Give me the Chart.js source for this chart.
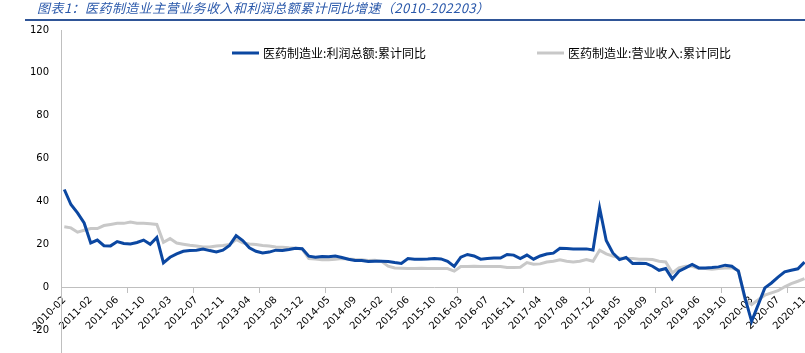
<!DOCTYPE html>
<html>
<head>
<meta charset="utf-8">
<script src="https://cdn.jsdelivr.net/npm/chart.js@4.4.0/dist/chart.umd.min.js"></script>
<style>
  html, body { margin: 0; padding: 0; background: #fff; }
  #wrap { position: relative; width: 805px; height: 353px; overflow: hidden; }
  #chart { position: absolute; left: 0; top: 0; }
  #title { position: absolute; left: 37px; top: -1px; font: italic 13px 'Noto Sans CJK SC', sans-serif; letter-spacing: 0.45px; color: #2A58AA; line-height: 18px; white-space: nowrap; }
  #rule { position: absolute; left: 25px; right: 0; top: 19px; height: 2px; background: #2F5597; }
</style>
</head>
<body>
<div id="wrap">
  <canvas id="chart" width="815" height="391"></canvas>
  <div id="title">图表1：医药制造业主营业务收入和利润总额累计同比增速（2010-202203）</div>
  <div id="rule"></div>
</div>
<script>
// categories: 2010 only has four readings, then Feb..Dec each year (Jan+Feb merged)
const categories = ['2010-02', '2010-05', '2010-08', '2010-11'];
for (let y = 2011; y <= 2020; y++) {
    for (let m = 2; m <= 12; m++) {
        if (y === 2020 && m > 11) break;
        categories.push(y + '-' + String(m).padStart(2, '0'));
    }
}

const profitLabel = '医药制造业:利润总额:累计同比';
const revenueLabel = '医药制造业:营业收入:累计同比';

// 利润总额累计同比 (%)
const profitGrowth = [
    45.6, 38.6, 34.7, 30.0, 20.7, 22.0, 19.4, 19.3, 21.3, 20.4,
    20.2, 20.9, 22.0, 20.0, 23.2, 11.4, 14.0, 15.6, 16.8, 17.1,
    17.3, 17.8, 17.1, 16.5, 17.3, 19.5, 24.1, 21.8, 18.4, 16.8,
    16.0, 16.4, 17.3, 17.1, 17.6, 18.2, 18.0, 14.5, 14.0, 14.3,
    14.2, 14.6, 13.9, 13.1, 12.5, 12.5, 12.0, 12.1, 12.1, 12.0,
    11.5, 11.1, 13.4, 13.1, 13.1, 13.2, 13.4, 13.2, 12.1, 9.7,
    14.0, 15.3, 14.6, 13.1, 13.4, 13.6, 13.6, 15.3, 15.0, 13.4,
    15.0, 13.1, 14.6, 15.5, 15.9, 18.2, 18.1, 17.9, 17.9, 17.9,
    17.4, 37.0, 21.8, 16.0, 12.9, 13.9, 11.1, 11.2, 11.1, 9.8,
    7.9, 8.7, 3.9, 7.5, 9.0, 10.6, 9.0, 9.0, 9.2, 9.5,
    10.3, 9.8, 7.5, -5.0, -15.9, -8.1, -0.3, 2.0, 4.7, 7.2,
    7.9, 8.6, 11.7
];

// 营业收入累计同比 (%)
const revenueGrowth = [
    28.2, 27.7, 25.7, 26.6, 27.4, 27.4, 28.8, 29.3, 29.8, 29.8,
    30.4, 29.9, 29.9, 29.6, 29.3, 21.0, 22.7, 20.6, 20.1, 19.6,
    19.2, 18.8, 18.8, 19.2, 19.5, 19.9, 22.3, 20.7, 20.2, 19.9,
    19.5, 19.2, 18.8, 18.7, 18.4, 18.2, 17.8, 13.4, 13.2, 12.8,
    12.8, 13.1, 13.4, 13.2, 12.9, 12.8, 12.5, 12.6, 12.1, 9.8,
    9.0, 8.9, 8.7, 8.7, 8.9, 8.7, 8.7, 8.7, 8.7, 7.5,
    9.7, 9.7, 9.8, 9.7, 9.7, 9.7, 9.7, 9.2, 9.2, 9.3,
    11.5, 10.7, 10.9, 11.8, 12.1, 12.8, 12.1, 11.8, 12.1, 12.9,
    12.1, 17.3, 15.6, 14.5, 13.7, 13.4, 13.4, 13.1, 13.1, 12.9,
    12.1, 11.8, 6.7, 9.0, 9.8, 9.8, 8.7, 8.7, 8.4, 8.7,
    9.0, 9.0, 7.9, -5.8, -8.1, -5.8, -3.7, -2.6, -1.6, 0.2,
    1.7, 2.8, 4.0
];

const axisGray = '#BFBFBF';
const labelFont = { family: 'DejaVu Sans', size: 10 };

// legend sits inside the plot, two items far apart
const legendLeft = [232, 537];
const legendY = 53;
const legendTextWidth = 163;

const insideLegend = {
    id: 'insideLegend',
    afterDraw(chart) {
        const c = chart.ctx;
        c.save();
        c.font = '12px "Noto Sans CJK SC"';
        c.textBaseline = 'middle';
        chart.data.datasets.forEach((ds, i) => {
            const x = legendLeft[i];
            c.strokeStyle = ds.borderColor;
            c.lineWidth = 3;
            c.beginPath();
            c.moveTo(x, legendY);
            c.lineTo(x + 27, legendY);
            c.stroke();
            c.letterSpacing = '0px';
            const w = c.measureText(ds.label).width;
            const n = [...ds.label].length;
            c.letterSpacing = Math.max(0, (legendTextWidth - w) / (n - 1)) + 'px';
            c.fillStyle = '#000';
            c.fillText(ds.label, x + 31, legendY);
        });
        c.restore();
    }
};

const ctx = document.getElementById('chart').getContext('2d');
const growthChart = new Chart(ctx, {
    type: 'line',
    data: {
        labels: categories,
        datasets: [
            {
                label: profitLabel,
                data: profitGrowth,
                borderColor: '#0B47A1',
                borderWidth: 3,
                pointRadius: 0,
                tension: 0,
                fill: false
            },
            {
                label: revenueLabel,
                data: revenueGrowth,
                borderColor: '#C8C8C8',
                borderWidth: 3,
                pointRadius: 0,
                tension: 0,
                fill: false
            }
        ]
    },
    options: {
        responsive: false,
        animation: false,
        layout: { padding: { top: 30, right: 6, bottom: 6, left: 0 } },
        scales: {
            x: {
                position: { y: 0 },
                offset: true,
                grid: {
                    offset: true,
                    drawOnChartArea: false,
                    tickLength: 5,
                    color: c => (c.index % 10 === 0 ? axisGray : 'rgba(0,0,0,0)')
                },
                border: { color: axisGray, width: 1 },
                ticks: {
                    autoSkip: false,
                    minRotation: 45,
                    maxRotation: 45,
                    padding: 2,
                    color: '#000',
                    font: labelFont,
                    callback: function (v, i) {
                        return i % 4 === 0 ? this.getLabelForValue(v) : '';
                    }
                }
            },
            y: {
                min: -40,
                max: 120,
                afterFit: s => { s.width = 61; },
                grid: { drawOnChartArea: false, drawTicks: false },
                border: { color: axisGray, width: 1 },
                ticks: { stepSize: 20, padding: 12, color: '#000', font: labelFont }
            }
        },
        plugins: {
            legend: { display: false },
            tooltip: { enabled: false }
        }
    },
    plugins: [insideLegend]
});
</script>
</body>
</html>
